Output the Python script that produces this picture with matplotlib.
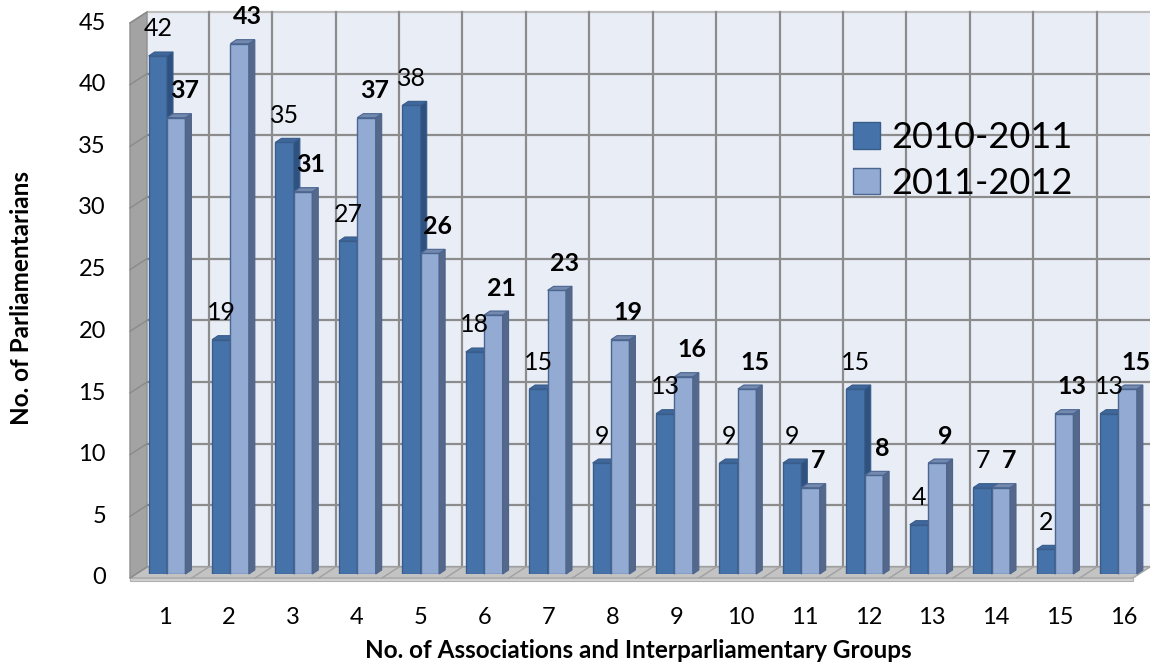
import matplotlib
matplotlib.use("Agg")
import matplotlib.pyplot as plt
from matplotlib.patches import Polygon, Patch
import numpy as np

plt.rcParams['font.family'] = ['Lato', 'DejaVu Sans']

categories = [str(i) for i in range(1, 17)]
series_names = ["2010-2011", "2011-2012"]
values_2010 = [42, 19, 35, 27, 38, 18, 15, 9, 13, 9, 9, 15, 4, 7, 2, 13]
values_2011 = [37, 43, 31, 37, 26, 21, 23, 19, 16, 15, 7, 8, 9, 7, 13, 15]
y_ticks = [0, 5, 10, 15, 20, 25, 30, 35, 40, 45]
y_label = "No. of Parliamentarians"
x_label = "No. of Associations and Interparliamentary Groups"

W, H = 1154, 666
fig = plt.figure(figsize=(W / 100, H / 100), dpi=100)
fig.patch.set_facecolor("white")

# axes = bar (middle) plane
ax_l, ax_r, ax_b, ax_t = 137, 1140, 574, 19
ax = fig.add_axes([ax_l / W, (H - ax_b) / H, (ax_r - ax_l) / W, (ax_b - ax_t) / H])
px_per_cat = 63.43
x0 = 1 - (167 - ax_l) / px_per_cat
x1 = x0 + (ax_r - ax_l) / px_per_cat
ymax = 45
ax.set_xlim(x0, x1)
ax.set_ylim(0, ymax)
ax.axis("off")

sx = (x1 - x0) / (ax_r - ax_l)   # data units per pixel
sy = ymax / (ax_b - ax_t)

def P(x, y, dx=0, dy=0):
    return (x + dx * sx, y + dy * sy)

BACK = (10, 7)
FRONT = (-7, -4)
DEPTH = (6, 4)

wall_c = "#E9EDF6"
grid_c = "#8C8C8C"
n = len(categories)
xs = np.arange(1, n + 1)

# back wall
back = Polygon([P(x0, 0, *BACK), P(x1, 0, *BACK), P(x1, ymax, *BACK), P(x0, ymax, *BACK)],
               closed=True, facecolor=wall_c, edgecolor="none", zorder=0, clip_on=False)
ax.add_patch(back)
# left wall
lw_poly = Polygon([P(x0, 0, *FRONT), P(x0, 0, *BACK), P(x0, ymax, *BACK), P(x0, ymax, *FRONT)],
                  closed=True, facecolor="#A3A3A3", edgecolor="#8E8E8E", lw=1, zorder=2, clip_on=False)
ax.add_patch(lw_poly)
# floor
floor = Polygon([P(x0, 0, *FRONT), P(x0, 0, *BACK), P(x1, 0, *BACK), P(x1, 0, *FRONT)],
                closed=True, facecolor="#C3C3C3", edgecolor="#A6A6A6", lw=1, zorder=2, clip_on=False)
ax.add_patch(floor)
floor_edge = Polygon([P(x0, 0, *FRONT), P(x1, 0, *FRONT), P(x1, 0, FRONT[0], FRONT[1] - 3),
                      P(x0, 0, FRONT[0], FRONT[1] - 3)],
                     closed=True, facecolor="#D0D0D0", edgecolor="#B0B0B0", lw=0.8, zorder=2, clip_on=False)
ax.add_patch(floor_edge)

# horizontal gridlines on back wall & left wall
for v in y_ticks:
    c = "#BDBDBD" if v == ymax else grid_c
    a, b = P(x0, v, *BACK), P(x1, v, *BACK)
    ax.plot([a[0], b[0]], [a[1], b[1]], color=c, lw=1.6, zorder=1, clip_on=False, solid_capstyle="butt")
    f = P(x0, v, *FRONT)
    ax.plot([f[0], a[0]], [f[1], a[1]], color="#8A8A8A", lw=1.0, zorder=3, clip_on=False)
# vertical gridlines on back wall & diagonal floor lines
for k in range(1, n):
    xb = k + 0.5
    a, b = P(xb, 0, *BACK), P(xb, ymax, *BACK)
    ax.plot([a[0], b[0]], [a[1], b[1]], color=grid_c, lw=1.6, zorder=1, clip_on=False)
    f = P(xb, 0, *FRONT)
    ax.plot([f[0], a[0]], [f[1], a[1]], color="#A0A0A0", lw=1.0, zorder=3, clip_on=False)

series = [
    dict(vals=values_2010, face="#4672AA", side="#2E5180", top="#3F679B", edge="#385D8A", off=-1),
    dict(vals=values_2011, face="#93ABD3", side="#56688A", top="#7489AE", edge="#4A6590", off=0),
]
bw = 0.29
z = 4
for i, x in enumerate(xs):
    for s in series:
        v = s["vals"][i]
        left = x + s["off"] * bw
        right = left + bw
        ax.bar(left, v, width=bw, align="edge", color=s["face"], edgecolor=s["edge"],
               linewidth=1.0, zorder=z)
        side = Polygon([P(right, 0), P(right, 0, *DEPTH), P(right, v, *DEPTH), P(right, v)],
                       closed=True, facecolor=s["side"], edgecolor=s["edge"], lw=0.8,
                       zorder=z + 0.1, clip_on=False)
        topf = Polygon([P(left, v), P(right, v), P(right, v, *DEPTH), P(left, v, *DEPTH)],
                       closed=True, facecolor=s["top"], edgecolor=s["edge"], lw=0.8,
                       zorder=z + 0.1, clip_on=False)
        ax.add_patch(side)
        ax.add_patch(topf)
        z += 0.3

# data labels
for i, x in enumerate(xs):
    v = values_2010[i]
    ax.text(*P(x - bw / 2, v, 0, 27), str(v), ha="center", va="center", fontsize=18,
            color="black", zorder=20)
    v = values_2011[i]
    ax.text(*P(x + bw / 2, v, 8, 27), str(v), ha="center", va="center", fontsize=18,
            fontweight="bold", color="black", zorder=20)

# y tick labels
for v in y_ticks:
    ax.text(*P(x0, v, -31, FRONT[1]), str(v), ha="right", va="center", fontsize=17,
            color="black", clip_on=False)
# x tick labels
for i, x in enumerate(xs):
    ax.text(*P(x, 0, (x - 1) * 0.5 - 2, -44), categories[i], ha="center", va="center",
            fontsize=17, color="black", clip_on=False)

fig.text(22 / W, 1 - 298 / H, y_label, rotation=90, ha="center", va="center",
         fontsize=17.5, fontweight="bold")
fig.text(638 / W, 1 - 650 / H, x_label, ha="center", va="center",
         fontsize=17.5, fontweight="bold")

handles = [Patch(facecolor=series[0]["face"], edgecolor=series[0]["edge"]),
           Patch(facecolor=series[1]["face"], edgecolor=series[1]["edge"])]
leg = fig.legend(handles, series_names, loc="upper left",
                 bbox_to_anchor=(853 / W, 1 - 121 / H), frameon=False, fontsize=26,
                 handlelength=0.75, handleheight=0.75, handletextpad=0.3, labelspacing=0.35,
                 borderpad=0, borderaxespad=0)

fig.savefig("out.png", dpi=100)
